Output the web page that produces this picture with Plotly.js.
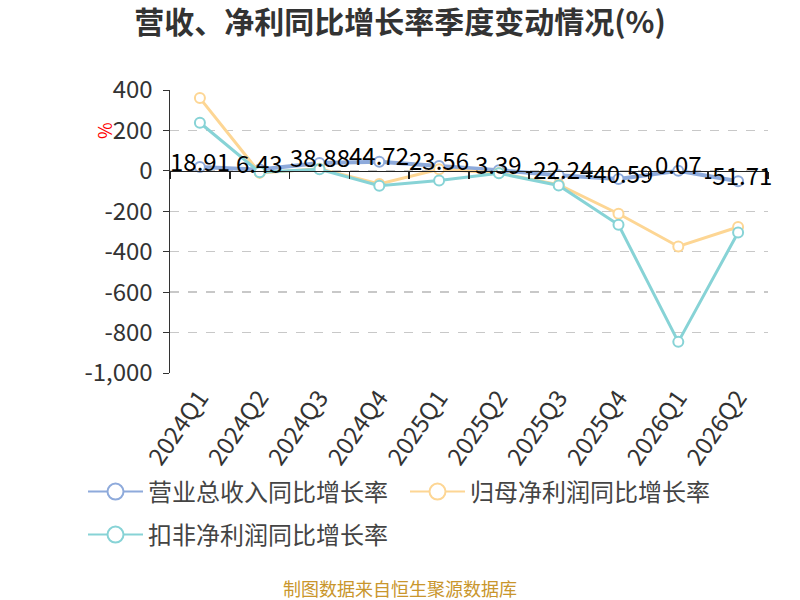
<!DOCTYPE html>
<html>
<head>
<meta charset="utf-8">
<script src="https://cdn.plot.ly/plotly-3.0.1.min.js"></script>
<style>
  body { margin: 0; background: #fff; }
  #chart { width: 800px; height: 600px; }
</style>
</head>
<body>
<div id="chart"></div>
<script>
// quarters on the x axis
const quarters = ["2024Q1", "2024Q2", "2024Q3", "2024Q4", "2025Q1",
                  "2025Q2", "2025Q3", "2025Q4", "2026Q1", "2026Q2"];

// 营业总收入同比增长率 (labelled on chart)
const revenueYoY = [18.91, 6.43, 38.88, 44.72, 23.56, 3.39, -22.24, -40.59, 0.07, -51.71];
// 归母净利润同比增长率
const netProfitYoY = [360, -10, 10, -65, 8, -10, -68, -212, -374, -278];
// 扣非净利润同比增长率
const deductedYoY = [238, -7, 8, -74, -48, -12, -72, -267, -846, -305];

const seriesNames = ["营业总收入同比增长率", "归母净利润同比增长率", "扣非净利润同比增长率"];

// y tick labels, with plain hyphen minus like the original
const yTickVals = [-1000, -800, -600, -400, -200, 0, 200, 400];
const yTickText = ["-1,000", "-800", "-600", "-400", "-200", "0", "200", "400"];

const FONT = "'Noto Sans CJK SC', 'Noto Sans', sans-serif";
const colors = ["#8eaadb", "#fdd694", "#87d3d6"];
const lineWidths = [4, 3, 3];
// first two entries on legend row one, third on row two
const legendOf = ["legend", "legend", "legend2"];

const series = [revenueYoY, netProfitYoY, deductedYoY];

const traces = series.map((vals, i) => ({
    x: quarters,
    y: vals,
    name: seriesNames[i],
    type: "scatter",
    mode: "lines+markers",
    line: { color: colors[i], width: lineWidths[i] },
    marker: { symbol: "circle", size: 10, color: "#fff", line: { color: colors[i], width: 2 } },
    showlegend: false,
    hoverinfo: "skip"
}));

// legend entries only: thin line, big open circle
seriesNames.forEach((name, i) => {
    traces.push({
        x: [null],
        y: [null],
        name: name,
        legend: legendOf[i],
        type: "scatter",
        mode: "lines+markers",
        line: { color: colors[i], width: 2 },
        marker: { symbol: "circle", size: 16, color: "#fff", line: { color: colors[i], width: 2 } },
        hoverinfo: "skip"
    });
});

// invisible trace so the crossing axis at y=0 knows the categories
traces.push({
    x: quarters,
    y: revenueYoY,
    xaxis: "x2",
    mode: "none",
    showlegend: false,
    hoverinfo: "skip"
});

// value labels of the revenue series
const labels = revenueYoY.map((v, i) => ({
    x: quarters[i],
    y: v,
    xref: "x",
    yref: "y",
    text: v.toFixed(2),
    showarrow: false,
    yanchor: "middle",
    yshift: 7,
    font: { family: FONT, size: 24, color: "#000" }
}));

const yMin = -1000, yMax = 400;

const legendBase = {
    orientation: "h",
    x: (83 - 170) / 598,
    xanchor: "left",
    yanchor: "middle",
    entrywidth: 252,
    entrywidthmode: "pixels",
    itemwidth: 55,
    font: { family: FONT, size: 24, color: "#444" },
    bgcolor: "rgba(0,0,0,0)"
};

const layout = {
    width: 800,
    height: 600,
    margin: { l: 170, r: 32, t: 90, b: 227, autoexpand: false },
    paper_bgcolor: "#fff",
    plot_bgcolor: "#fff",
    font: { family: FONT, color: "#333" },
    title: {
        text: "<b>营收、净利同比增长率季度变动情况(%)</b>",
        font: { family: FONT, size: 30, color: "#333" },
        x: 0.5,
        xanchor: "center",
        y: 0.962,
        yanchor: "middle"
    },
    showlegend: true,
    legend: Object.assign({}, legendBase, { y: (373 - 492) / 283 }),
    legend2: Object.assign({}, legendBase, { y: (373 - 535) / 283 }),
    xaxis: {
        type: "category",
        categoryarray: quarters,
        range: [-0.5, quarters.length - 0.5],
        showline: false,
        showgrid: false,
        zeroline: false,
        ticks: "",
        tickangle: -55,
        ticklabelstandoff: 5,
        tickfont: { family: FONT, size: 24, color: "#333" }
    },
    xaxis2: {
        type: "category",
        categoryarray: quarters,
        range: [-0.5, quarters.length - 0.5],
        overlaying: "x",
        anchor: "free",
        position: (0 - yMin) / (yMax - yMin),
        showline: true,
        linecolor: "#222",
        linewidth: 1.5,
        ticks: "outside",
        tickson: "boundaries",
        ticklen: 7,
        tickcolor: "#222",
        tickwidth: 1.5,
        showticklabels: false,
        showgrid: false,
        zeroline: false
    },
    yaxis: {
        range: [yMin, yMax],
        tickvals: yTickVals,
        ticktext: yTickText,
        showline: true,
        linecolor: "#333",
        linewidth: 1.5,
        ticks: "outside",
        ticklen: 6,
        tickcolor: "#333",
        ticklabelstandoff: 5,
        showgrid: true,
        gridcolor: "#c8c8c8",
        griddash: "dash",
        gridwidth: 1.5,
        zeroline: false,
        tickfont: { family: FONT, size: 24, color: "#333" }
    },
    annotations: labels.concat([
        {
            text: "%",
            xref: "paper", yref: "paper",
            x: (104 - 170) / 598, y: (373 - 131) / 283,
            xanchor: "center", yanchor: "middle",
            showarrow: false,
            textangle: -90,
            font: { family: FONT, size: 18, color: "#ff0000" }
        },
        {
            text: "制图数据来自恒生聚源数据库",
            xref: "paper", yref: "paper",
            x: (400 - 170) / 598, y: (373 - 588) / 283,
            xanchor: "center", yanchor: "middle",
            showarrow: false,
            font: { family: FONT, size: 18, color: "#c9962c" }
        }
    ])
};

Plotly.newPlot("chart", traces, layout, { displayModeBar: false, staticPlot: true });
</script>
</body>
</html>
